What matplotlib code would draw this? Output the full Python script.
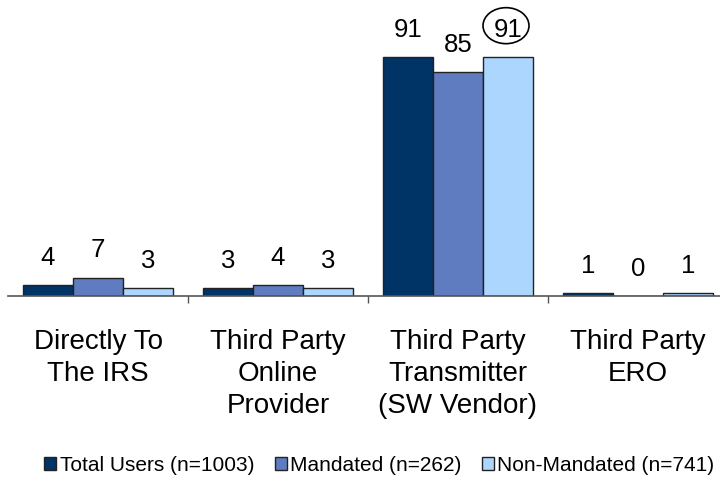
import matplotlib
matplotlib.use("Agg")
import matplotlib.pyplot as plt
from matplotlib.patches import Ellipse
from matplotlib.transforms import IdentityTransform
import numpy as np

categories = ["Directly To\nThe IRS", "Third Party\nOnline\nProvider",
              "Third Party\nTransmitter\n(SW Vendor)", "Third Party\nERO"]
series_names = ["Total Users (n=1003)", "Mandated (n=262)", "Non-Mandated (n=741)"]
total_users = [4, 3, 91, 1]
mandated = [7, 4, 85, 0]
non_mandated = [3, 3, 91, 1]
colors = ["#003366", "#5e7cbf", "#add6ff"]

plt.rcParams['font.family'] = ['Liberation Sans', 'DejaVu Sans']

fig = plt.figure(figsize=(7.2, 4.78), dpi=100)
ax = fig.add_axes([8 / 720, 182 / 478, 1.0, 263 / 478])
ax.set_xlim(-0.5, 3.5)
ax.set_ylim(0, 100)

x = np.arange(len(categories))
w = 50 / 180
all_series = [total_users, mandated, non_mandated]
for i, (vals, c, name) in enumerate(zip(all_series, colors, series_names)):
    bars = ax.bar(x + (i - 1) * w, vals, w, color=c, edgecolor="#222222",
                  linewidth=1, label=name)
    for b, v in zip(bars, vals):
        ax.annotate(str(v), (b.get_x() + b.get_width() / 2, v),
                    xytext=(0, 14.5), textcoords="offset points",
                    ha="center", va="baseline", fontsize=18.5)

# circle round the non-mandated SW vendor value
cx, cy = ax.transData.transform((x[2] + w, non_mandated[2]))
ax.add_patch(Ellipse((cx - 2, cy + 31), 46, 36, transform=IdentityTransform(),
                     fill=False, edgecolor="black", linewidth=1.2,
                     clip_on=False))

ax.set_yticks([])
for s in ["top", "right", "left"]:
    ax.spines[s].set_visible(False)
ax.spines["bottom"].set_color("#555555")
ax.spines["bottom"].set_linewidth(1.2)

ax.set_xticks(x)
ax.set_xticklabels(categories, fontsize=20, linespacing=1.3)
ax.tick_params(axis="x", which="major", length=0, pad=24)
ax.set_xticks([0.5, 1.5, 2.5], minor=True)
ax.tick_params(axis="x", which="minor", length=5, width=1, color="#555555")

fig.legend(loc="center", bbox_to_anchor=(0.527, 0.027), ncol=3,
           frameon=False, fontsize=15, handlelength=0.58, handleheight=0.58,
           handletextpad=0.15, columnspacing=1.0, borderaxespad=0)

fig.savefig("out.png", dpi=100)
